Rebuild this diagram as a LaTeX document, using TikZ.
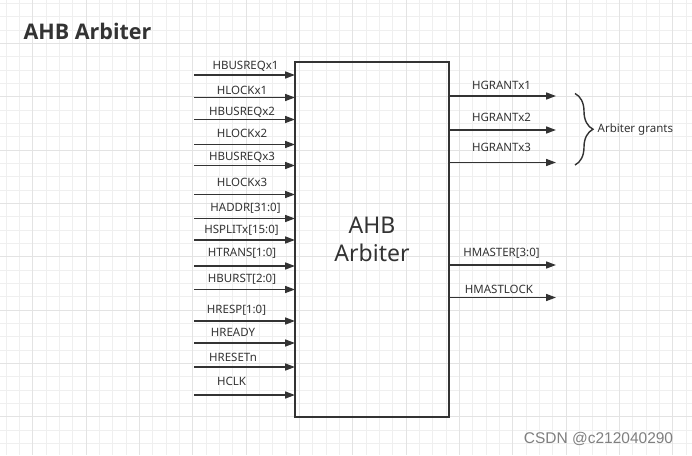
\documentclass[tikz,border=0pt]{standalone}
\usepackage{fontspec}
\setmainfont{Noto Sans}
\newfontfamily\titlefont{Open Sans}
\newfontfamily\wmfont{Liberation Sans}
\usetikzlibrary{arrows.meta, decorations.pathreplacing}
\definecolor{ink}{HTML}{333333}
\definecolor{gridminor}{HTML}{EFEFEF}
\definecolor{gridmajor}{HTML}{E3E3E3}

\begin{document}
\begin{tikzpicture}[
  x=1pt, y=-1pt,
  sig/.style   = {font=\fontsize{11.5}{13}\selectfont, text=ink, inner sep=0pt},
  arr/.style   = {-{Triangle[length=10pt, width=7pt]}, line width=1.6pt, draw=ink},
  blk/.style   = {draw=ink, line width=1.5pt, minimum width=154, minimum height=355,
                  outer sep=0pt, align=center, text=ink,
                  font=\fontsize{23}{28}\selectfont},
  brc/.style   = {draw=ink, line width=1.4pt, decorate,
                  decoration={brace, amplitude=18pt}},
  grd/.style   = {draw=gridminor, line width=0.8pt},
  grdmaj/.style= {draw=gridmajor, line width=0.9pt}
]
  %% Canvas and grid
  \fill[white] (0,0) rectangle (692,455);
  \useasboundingbox (0,0) rectangle (692,455);
  \foreach \k in {0,...,51} \draw[grd] ({6+13.333*\k},0) -- ++(0,455);
  \foreach \k in {0,...,34} \draw[grd] (0,{3.3+13.333*\k}) -- ++(692,0);
  \foreach \k in {0,...,12} \draw[grdmaj] ({32.7+53.333*\k},0) -- ++(0,455);
  \foreach \k in {0,...,8}  \draw[grdmaj] (0,{43.3+53.333*\k}) -- ++(692,0);

  %% Title
  \node[text=ink, font=\titlefont\bfseries\fontsize{21.5}{25}\selectfont] (title) at (87.5,31.5) {AHB Arbiter};

  %% Arbiter block
  \node[blk] (arb) at (372,239.5) {AHB\\Arbiter};

  %% Inputs
  \coordinate (i1)  at (194,75);
  \coordinate (i2)  at (194,97.5);
  \coordinate (i3)  at (194,119.5);
  \coordinate (i4)  at (194,144.5);
  \coordinate (i5)  at (194,165.5);
  \coordinate (i6)  at (194,194.5);
  \coordinate (i7)  at (194,218.5);
  \coordinate (i8)  at (194,240);
  \coordinate (i9)  at (194,266);
  \coordinate (i10) at (194,289.5);
  \coordinate (i11) at (194,321);
  \coordinate (i12) at (194,343);
  \coordinate (i13) at (194,367);
  \coordinate (i14) at (194,395);

  \node[sig] (hbusreq1) at (245.5,66)   {HBUSREQx1};
  \node[sig] (hlock1)   at (242,90.5)   {HLOCKx1};
  \node[sig] (hbusreq2) at (242,112)    {HBUSREQx2};
  \node[sig] (hlock2)   at (242,133)    {HLOCKx2};
  \node[sig] (hbusreq3) at (242,157)    {HBUSREQx3};
  \node[sig] (hlock3)   at (242,182)    {HLOCKx3};
  \node[sig] (haddr)    at (245.5,208)  {HADDR[31:0]};
  \node[sig] (hsplit)   at (241.5,230.5){HSPLITx[15:0]};
  \node[sig] (htrans)   at (242,253.5)  {HTRANS[1:0]};
  \node[sig] (hburst)   at (242,279)    {HBURST[2:0]};
  \node[sig] (hresp)    at (236.5,310)  {HRESP[1:0]};
  \node[sig] (hready)   at (233,332.5)  {HREADY};
  \node[sig] (hresetn)  at (233,357.5)  {HRESETn};
  \node[sig] (hclk)     at (231.5,381.5){HCLK};

  \draw[arr] (i1)  -- (i1  -| arb.west);
  \draw[arr] (i2)  -- (i2  -| arb.west);
  \draw[arr] (i3)  -- (i3  -| arb.west);
  \draw[arr] (i4)  -- (i4  -| arb.west);
  \draw[arr] (i5)  -- (i5  -| arb.west);
  \draw[arr] (i6)  -- (i6  -| arb.west);
  \draw[arr] (i7)  -- (i7  -| arb.west);
  \draw[arr] (i8)  -- (i8  -| arb.west);
  \draw[arr] (i9)  -- (i9  -| arb.west);
  \draw[arr] (i10) -- (i10 -| arb.west);
  \draw[arr] (i11) -- (i11 -| arb.west);
  \draw[arr] (i12) -- (i12 -| arb.west);
  \draw[arr] (i13) -- (i13 -| arb.west);
  \draw[arr] (i14) -- (i14 -| arb.west);

  %% Outputs
  \coordinate (o1) at (556,96);
  \coordinate (o2) at (556,130);
  \coordinate (o3) at (556,162.5);
  \coordinate (o4) at (556,265);
  \coordinate (o5) at (556,297.5);

  \node[sig] (hgrant1)   at (501.5,85.5)  {HGRANTx1};
  \node[sig] (hgrant2)   at (501.5,117.5) {HGRANTx2};
  \node[sig] (hgrant3)   at (501.5,147.5) {HGRANTx3};
  \node[sig] (hmaster)   at (501.5,253.5) {HMASTER[3:0]};
  \node[sig] (hmastlock) at (499,289)     {HMASTLOCK};

  \draw[arr] (o1 -| arb.east) -- (o1);
  \draw[arr] (o2 -| arb.east) -- (o2);
  \draw[arr] (o3 -| arb.east) -- (o3);
  \draw[arr] (o4 -| arb.east) -- (o4);
  \draw[arr] (o5 -| arb.east) -- (o5);

  %% Grant brace
  \coordinate (bt) at (575,93.5);
  \coordinate (bb) at (575,165);
  \draw[brc] (bt) -- (bb);
  \node[sig, anchor=west] (grants) at (597.5,130) {Arbiter grants};

  %% Watermark
  \node[text=black!50, font=\wmfont\fontsize{15.5}{18}\selectfont] (wm) at (598.5,439) {CSDN @c212040290};
\end{tikzpicture}
\end{document}
